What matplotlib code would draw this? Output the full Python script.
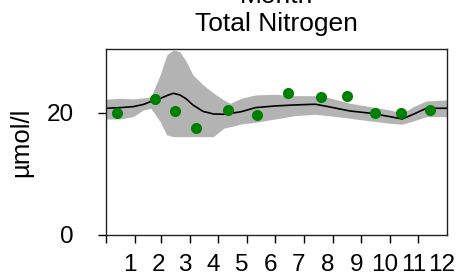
import matplotlib
matplotlib.use("Agg")
import matplotlib.pyplot as plt
import matplotlib.transforms as mtransforms

plt.rcParams['font.family'] = ['Liberation Sans', 'DejaVu Sans']

# climatology (day of year) - mean and spread band
clim_day = [0, 15, 29, 40, 48, 58, 65, 72, 79, 86, 93, 104, 115, 126,
            133, 145, 160, 181, 202, 224, 238, 261, 283, 304, 317, 329, 343, 365]
clim_mean = [20.71, 20.81, 20.97, 21.33, 21.82, 22.31, 22.77, 23.16, 22.89, 22.23,
             21.25, 20.19, 19.78, 19.73, 19.86, 20.16, 20.81, 21.09, 21.25, 21.37,
             20.97, 20.27, 19.90, 19.34, 18.96, 19.73, 20.71, 20.71]
clim_high = [22.18, 22.35, 22.23, 22.40, 22.56, 26.16, 29.43, 30.24, 29.97, 28.33,
             26.16, 24.52, 23.21, 22.07, 21.53, 22.35, 22.89, 23.00, 22.77, 22.77,
             22.45, 21.53, 20.97, 20.43, 19.90, 20.97, 21.91, 22.07]
clim_low = [18.96, 18.96, 19.34, 20.43, 20.71, 18.52, 16.35, 16.07, 16.07, 16.07,
            16.07, 16.07, 16.07, 17.44, 17.70, 18.15, 18.42, 18.96, 19.50, 19.73,
            19.50, 19.08, 18.64, 18.26, 18.10, 18.64, 19.34, 19.34]

# observations
obs_day = [12, 52, 74, 96, 131, 162, 195, 230, 258, 288, 316, 347]
obs_value = [19.90, 22.18, 20.32, 17.54, 20.39, 19.67, 23.16, 22.56, 22.77,
             19.94, 19.99, 20.39]

month_start = [0, 31, 59, 90, 120, 151, 181, 212, 243, 273, 304, 334]
month_labels = [str(m) for m in range(1, 13)]

fig = plt.figure(figsize=(4.57, 2.8), dpi=100)
ax = fig.add_axes([0.232, 0.161, 0.746, 0.664])

ax.fill_between(clim_day, clim_low, clim_high, color='#b3b3b3', lw=0)
ax.plot(clim_day, clim_mean, color='black', lw=1.2)
ax.plot(obs_day, obs_value, 'o', color='green', ms=8, mec='none')

ax.set_xlim(0, 365)
ax.set_ylim(0, 30.4)
ax.set_yticks([0, 20])
ax.set_xticks(month_start)
ax.set_xticklabels(month_labels)

ax.tick_params(axis='both', labelsize=17.5, length=6, width=1, direction='out')
ax.tick_params(axis='x', pad=7.5)
ax.tick_params(axis='y', pad=17)

# month labels sit between the month boundary ticks
offset = mtransforms.ScaledTranslation(0.235, 0, fig.dpi_scale_trans)
for lbl in ax.get_xticklabels():
    lbl.set_transform(lbl.get_transform() + offset)

for sp in ax.spines.values():
    sp.set_linewidth(1)
    sp.set_color('#222222')

ax.set_ylabel('µmol/l', fontsize=18.5)
ax.yaxis.set_label_coords(-0.214, 0.5)
ax.set_title('Month\nTotal Nitrogen', fontsize=19, pad=13)

fig.savefig('out.png', dpi=100)
